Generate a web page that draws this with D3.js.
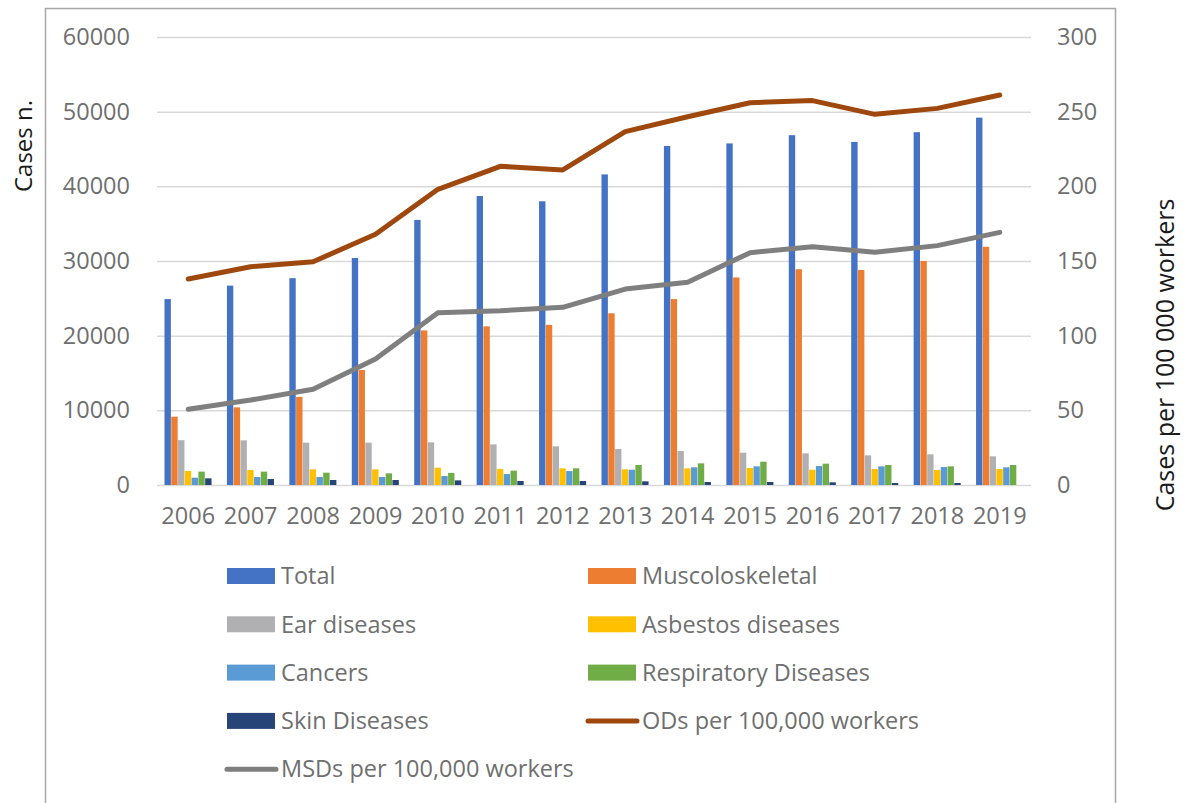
<!DOCTYPE html>
<html>
<head>
<meta charset="utf-8">
<script src="https://cdn.jsdelivr.net/npm/d3@7"></script>
<style>
  body { margin: 0; background: #fff; }
  text { font-family: "Open Sans", sans-serif; }
</style>
</head>
<body>
<div id="chart"></div>
<script>
// data
const years = ["2006","2007","2008","2009","2010","2011","2012","2013","2014","2015","2016","2017","2018","2019"];

const total       = [24900, 26700, 27700, 30400, 35500, 38700, 38000, 41600, 45400, 45750, 46850, 45950, 47250, 49200];
const musculo     = [9150, 10400, 11800, 15400, 20700, 21250, 21450, 23000, 24900, 27800, 28900, 28800, 30000, 31900];
const ear         = [6000, 5980, 5670, 5670, 5710, 5440, 5180, 4820, 4550, 4330, 4240, 3970, 4110, 3840];
const asbestos    = [1880, 2010, 2100, 2100, 2320, 2140, 2230, 2100, 2230, 2280, 2050, 2140, 2010, 2140];
const cancers     = [980, 1070, 1070, 1070, 1200, 1470, 1870, 2050, 2370, 2500, 2540, 2500, 2410, 2370];
const respiratory = [1790, 1790, 1650, 1560, 1620, 1920, 2230, 2680, 2900, 3120, 2860, 2680, 2500, 2680];
const skin        = [890, 800, 670, 670, 620, 535, 535, 490, 400, 400, 360, 270, 270, 0];

const odRate  = [137.9, 146.2, 149.5, 167.9, 198.0, 213.4, 211.0, 236.6, 246.6, 256.0, 257.4, 248.2, 252.2, 261.2];
const msdRate = [50.7, 56.9, 64.1, 84.4, 115.4, 116.7, 119.0, 131.2, 135.7, 155.6, 159.6, 155.8, 160.3, 169.2];

const leftTicks  = [0, 10000, 20000, 30000, 40000, 50000, 60000];
const rightTicks = [0, 50, 100, 150, 200, 250, 300];

const barSeries = [
    { name: "Total", values: total, color: "#4472c4" },
    { name: "Muscoloskeletal", values: musculo, color: "#ed7d31" },
    { name: "Ear diseases", values: ear, color: "#b0b0b3" },
    { name: "Asbestos diseases", values: asbestos, color: "#ffc000" },
    { name: "Cancers", values: cancers, color: "#5b9bd5" },
    { name: "Respiratory Diseases", values: respiratory, color: "#70ad47" },
    { name: "Skin Diseases", values: skin, color: "#264478" }
];
const lineSeries = [
    { name: "ODs per 100,000 workers", values: odRate, color: "#9e480e" },
    { name: "MSDs per 100,000 workers", values: msdRate, color: "#7f7f7f" }
];

const width = 1187, height = 803;
const plot = { left: 157, right: 1031, top: 37, bottom: 485 };
const textColor = "#6f6f6f";

const svg = d3.create("svg")
    .attr("width", width)
    .attr("height", height);

// chart frame (runs off the bottom of the picture)
svg.append("rect")
    .attr("x", 45.5).attr("y", 8.5)
    .attr("width", 1070).attr("height", 830)
    .attr("fill", "none")
    .attr("stroke", "#a6a6a6")
    .attr("stroke-width", 1.5);

// scales
const x = d3.scaleBand()
    .domain(years)
    .range([plot.left, plot.right])
    .paddingInner(0.24)
    .paddingOuter(0.12);

const xs = d3.scaleBand()
    .domain(barSeries.map(d => d.name))
    .range([0, x.bandwidth()]);

const y = d3.scaleLinear()
    .domain([0, 60000])
    .range([plot.bottom, plot.top]);

const y2 = d3.scaleLinear()
    .domain([0, 300])
    .range([plot.bottom, plot.top]);

// gridlines + left axis
svg.append("g")
    .attr("transform", `translate(${plot.left},0)`)
    .call(d3.axisLeft(y).tickValues(leftTicks).tickFormat(d3.format("d"))
        .tickSize(-(plot.right - plot.left)).tickPadding(27))
    .call(g => g.select(".domain").remove())
    .call(g => g.selectAll(".tick line").attr("stroke", "#d9d9d9").attr("stroke-width", 1.5))
    .call(g => g.selectAll(".tick text")
        .attr("fill", textColor)
        .style("font-size", "23.5px")
        .style("font-family", "Open Sans"));

// right axis
svg.append("g")
    .attr("transform", `translate(${plot.right},0)`)
    .call(d3.axisRight(y2).tickValues(rightTicks).tickSize(0).tickPadding(26))
    .call(g => g.select(".domain").remove())
    .call(g => g.selectAll(".tick text")
        .attr("fill", textColor)
        .style("font-size", "23.5px")
        .style("font-family", "Open Sans"));

// bottom axis labels
svg.append("g")
    .attr("transform", `translate(0,${plot.bottom})`)
    .call(d3.axisBottom(x).tickSize(0).tickPadding(22))
    .call(g => g.select(".domain").remove())
    .call(g => g.selectAll(".tick text")
        .attr("fill", textColor)
        .style("font-size", "23.5px")
        .style("font-family", "Open Sans"));

// bars
barSeries.forEach(s => {
    svg.append("g")
        .selectAll("rect")
        .data(years)
        .join("rect")
        .attr("x", (d) => x(d) + xs(s.name))
        .attr("y", (d, i) => y(s.values[i]))
        .attr("width", xs.bandwidth() - 0.4)
        .attr("height", (d, i) => y(0) - y(s.values[i]))
        .attr("fill", s.color);
});

// lines on secondary axis
const line = d3.line()
    .x((d, i) => x(years[i]) + x.bandwidth() / 2)
    .y(d => y2(d));

lineSeries.forEach(s => {
    svg.append("path")
        .datum(s.values)
        .attr("fill", "none")
        .attr("stroke", s.color)
        .attr("stroke-width", 5)
        .attr("stroke-linejoin", "round")
        .attr("stroke-linecap", "round")
        .attr("d", line);
});

// axis titles
svg.append("text")
    .attr("transform", "translate(32,146) rotate(-90)")
    .attr("text-anchor", "middle")
    .attr("fill", "#1a1a1a")
    .style("font-size", "24px")
    .text("Cases n.");

svg.append("text")
    .attr("transform", "translate(1174,355) rotate(-90)")
    .attr("text-anchor", "middle")
    .attr("fill", "#1a1a1a")
    .style("font-size", "25px")
    .text("Cases per 100 000 workers");

// legend
const legendItems = barSeries.map(d => ({ ...d, type: "bar" }))
    .concat(lineSeries.map(d => ({ ...d, type: "line" })));
const legend = svg.append("g").style("font-size", "23.5px");

legendItems.forEach((item, i) => {
    const col = i % 2, row = Math.floor(i / 2);
    const g = legend.append("g")
        .attr("transform", `translate(${col === 0 ? 227 : 588},${576 + row * 48.3})`);
    if (item.type === "bar") {
        g.append("rect")
            .attr("x", 0).attr("y", -8)
            .attr("width", 48).attr("height", 16)
            .attr("fill", item.color);
    } else {
        g.append("line")
            .attr("x1", 0).attr("x2", 49)
            .attr("stroke", item.color)
            .attr("stroke-width", 5)
            .attr("stroke-linecap", "round");
    }
    g.append("text")
        .attr("x", 54)
        .attr("dy", "0.35em")
        .attr("fill", textColor)
        .text(item.name);
});

document.getElementById("chart").appendChild(svg.node());
</script>
</body>
</html>
